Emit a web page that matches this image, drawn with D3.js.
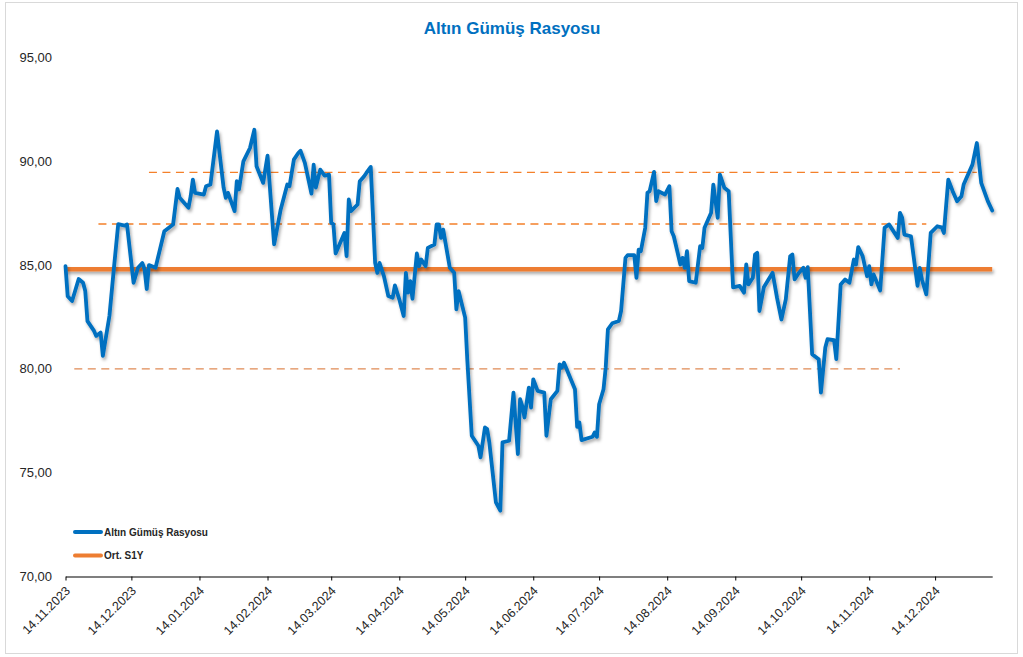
<!DOCTYPE html>
<html>
<head>
<meta charset="utf-8">
<script src="https://cdn.jsdelivr.net/npm/d3@7/dist/d3.min.js"></script>
<style>
  html, body { margin: 0; padding: 0; background: #fff; }
  svg { display: block; font-family: "Liberation Sans", Arial, sans-serif; }
</style>
</head>
<body>
<svg id="chart" width="1023" height="657"></svg>
<script>
// ---- data ----
const dates = [
  "2023-11-14","2023-11-15","2023-11-17","2023-11-20","2023-11-22","2023-11-23","2023-11-24","2023-11-27","2023-11-28","2023-11-30",
  "2023-12-01","2023-12-04","2023-12-06","2023-12-08","2023-12-11","2023-12-12","2023-12-15","2023-12-17","2023-12-19","2023-12-20",
  "2023-12-21","2023-12-22","2023-12-25","2023-12-29","2024-01-02","2024-01-04","2024-01-05","2024-01-09","2024-01-10","2024-01-11",
  "2024-01-12","2024-01-16","2024-01-17","2024-01-19","2024-01-22","2024-01-25","2024-01-26","2024-01-27","2024-01-30","2024-01-31",
  "2024-02-01","2024-02-03","2024-02-06","2024-02-08","2024-02-09","2024-02-12","2024-02-14","2024-02-17","2024-02-20","2024-02-23",
  "2024-02-24","2024-02-26","2024-02-28","2024-02-29","2024-03-02","2024-03-05","2024-03-06","2024-03-07","2024-03-09","2024-03-11",
  "2024-03-13","2024-03-14","2024-03-15","2024-03-16","2024-03-20","2024-03-21","2024-03-22","2024-03-23","2024-03-26","2024-03-27",
  "2024-03-29","2024-03-30","2024-04-01","2024-04-03","2024-04-04","2024-04-05","2024-04-07","2024-04-09","2024-04-11","2024-04-12",
  "2024-04-14","2024-04-16","2024-04-17","2024-04-18","2024-04-19","2024-04-20","2024-04-22","2024-04-23","2024-04-24","2024-04-26",
  "2024-04-27","2024-04-30","2024-05-01","2024-05-02","2024-05-03","2024-05-04","2024-05-07","2024-05-09","2024-05-10","2024-05-11",
  "2024-05-14","2024-05-15","2024-05-17","2024-05-20","2024-05-21","2024-05-23","2024-05-24","2024-05-25","2024-05-28","2024-05-30",
  "2024-05-31","2024-06-03","2024-06-05","2024-06-07","2024-06-08","2024-06-09","2024-06-10","2024-06-12","2024-06-13","2024-06-14",
  "2024-06-16","2024-06-19","2024-06-20","2024-06-22","2024-06-25","2024-06-26","2024-06-27","2024-06-28","2024-07-03","2024-07-04",
  "2024-07-05","2024-07-06","2024-07-11","2024-07-12","2024-07-13","2024-07-14","2024-07-16","2024-07-17","2024-07-18","2024-07-20",
  "2024-07-23","2024-07-24","2024-07-26","2024-07-27","2024-07-30","2024-07-31","2024-08-01","2024-08-02","2024-08-04","2024-08-05",
  "2024-08-06","2024-08-08","2024-08-09","2024-08-10","2024-08-13","2024-08-15","2024-08-16","2024-08-17","2024-08-20","2024-08-21",
  "2024-08-22","2024-08-23","2024-08-24","2024-08-27","2024-08-28","2024-08-29","2024-08-30","2024-08-31","2024-09-03","2024-09-04",
  "2024-09-06","2024-09-07","2024-09-09","2024-09-11","2024-09-13","2024-09-16","2024-09-18","2024-09-19","2024-09-20","2024-09-22",
  "2024-09-23","2024-09-24","2024-09-25","2024-09-27","2024-10-01","2024-10-03","2024-10-05","2024-10-07","2024-10-09","2024-10-10",
  "2024-10-11","2024-10-13","2024-10-15","2024-10-16","2024-10-17","2024-10-19","2024-10-22","2024-10-23","2024-10-25","2024-10-26",
  "2024-10-29","2024-10-30","2024-11-01","2024-11-03","2024-11-05","2024-11-07","2024-11-08","2024-11-09","2024-11-11","2024-11-13",
  "2024-11-14","2024-11-15","2024-11-16","2024-11-19","2024-11-21","2024-11-23","2024-11-27","2024-11-28","2024-11-29","2024-11-30",
  "2024-12-03","2024-12-06","2024-12-07","2024-12-08","2024-12-10","2024-12-12","2024-12-15","2024-12-17","2024-12-18","2024-12-20",
  "2024-12-22","2024-12-24","2024-12-26","2024-12-27","2024-12-31","2025-01-02","2025-01-04","2025-01-07","2025-01-09"
];
const ratio = [
  84.95,83.5,83.27,84.33,84.15,83.75,82.3,81.83,81.59,81.75,
  80.63,82.55,84.8,86.97,86.9,86.96,84.15,84.87,85.1,84.8,
  83.85,85.0,84.87,86.63,86.96,88.67,88.24,87.76,88.32,89.12,
  88.48,88.4,88.8,88.88,91.44,88.73,88.24,88.48,87.6,89.04,
  88.64,90.0,90.64,91.52,89.76,88.96,90.27,86.0,87.68,88.88,
  88.8,90.08,90.4,90.51,89.92,88.44,89.84,88.73,89.6,89.31,
  89.36,87.03,86.96,85.56,86.55,85.43,88.16,87.6,87.92,89.04,
  89.28,89.44,89.73,85.11,84.63,85.11,84.47,83.51,83.43,84.02,
  83.35,82.55,84.63,83.67,84.23,83.38,85.56,84.95,85.27,84.95,
  85.83,85.99,86.96,86.96,86.31,86.71,84.87,84.63,82.87,83.75,
  82.47,80.38,76.78,76.3,75.74,77.18,77.1,76.46,73.57,73.17,
  76.46,76.54,78.86,75.9,78.54,78.22,77.66,79.1,78.14,79.5,
  78.94,78.86,76.78,78.54,78.94,80.22,80.06,80.3,79.02,77.21,
  77.42,76.57,76.73,76.94,76.73,78.3,79.02,80.06,81.9,82.2,
  82.31,82.79,85.35,85.48,85.48,84.39,85.75,85.67,86.8,88.48,
  88.56,89.49,88.08,88.56,88.4,88.8,86.63,86.39,85.03,85.35,
  84.87,85.67,84.23,84.15,85.03,85.91,85.83,86.8,87.52,88.88,
  87.28,89.36,88.73,88.56,83.93,84.0,83.67,85.03,84.07,84.39,
  85.51,85.59,82.79,83.93,84.63,83.43,82.38,83.35,85.43,85.51,
  84.31,84.63,84.87,84.39,84.9,80.71,80.47,78.86,81.03,81.43,
  81.38,80.47,84.07,84.31,84.15,85.27,85.03,85.87,85.43,84.47,
  84.95,84.07,84.55,83.78,86.8,86.96,86.31,87.52,87.28,86.47,
  86.39,84.0,84.87,84.31,83.59,86.55,86.87,86.82,86.55,89.12,
  88.56,88.08,88.32,88.88,89.84,90.88,88.96,88.08,87.63
];

// Ort. S1Y (average) line
const avgValue = 84.8;
const avgRange = ["2023-11-14", "2025-01-09"];

// unlabelled dashed levels
const levelValues = [89.47, 86.98, 80.0];
const levelStart  = ["2023-12-22", "2023-11-29", "2023-11-18"];
const levelEnd    = ["2025-01-02", "2024-12-10", "2024-11-28"];

const yTicks = [70, 75, 80, 85, 90, 95];
const xTickDates = [
  "2023-11-14","2023-12-14","2024-01-14","2024-02-14","2024-03-14","2024-04-14","2024-05-14",
  "2024-06-14","2024-07-14","2024-08-14","2024-09-14","2024-10-14","2024-11-14","2024-12-14"
];

const title = "Altın Gümüş Rasyosu";
const seriesNames = ["Altın Gümüş Rasyosu", "Ort. S1Y"];

// ---- drawing ----
const parse = d3.utcParse("%Y-%m-%d");
const fmtDate = d3.utcFormat("%d.%m.%Y");
const fmtNum = (v) => d3.format(".2f")(v).replace(".", ",");

const blue = "#0070C0";
const orange = "#ED7D31";

const svg = d3.select("#chart");

// Drop shadow like Excel's. userSpaceOnUse so a flat horizontal line
// (zero-height bbox) still gets a filter region.
const defs = svg.append("defs");
const sh = defs.append("filter").attr("id", "shadow")
  .attr("filterUnits", "userSpaceOnUse")
  .attr("x", 0).attr("y", 0).attr("width", 1023).attr("height", 657);
sh.append("feDropShadow")
  .attr("dx", 1.5).attr("dy", 2.5).attr("stdDeviation", 1.4)
  .attr("flood-color", "#000").attr("flood-opacity", 0.33);

// chart border
svg.append("rect")
  .attr("x", 5.5).attr("y", 2.5).attr("width", 1012).attr("height", 651)
  .attr("fill", "#fff").attr("stroke", "#D9D9D9").attr("stroke-width", 1);

const x = d3.scaleUtc()
  .domain([parse("2023-11-14"), parse("2025-01-09")])
  .range([65.5, 992.2]);
const y = d3.scaleLinear().domain([70, 95]).range([576.5, 57.5]);

// title
svg.append("text")
  .attr("x", 512).attr("y", 34)
  .attr("text-anchor", "middle")
  .attr("font-size", 17).attr("font-weight", "bold")
  .attr("fill", blue)
  .text(title);

// y labels
svg.append("g").selectAll("text")
  .data(yTicks)
  .join("text")
  .attr("x", 52).attr("y", (d) => y(d))
  .attr("dy", "0.35em")
  .attr("text-anchor", "end")
  .attr("font-size", 13).attr("fill", "#262626")
  .text(fmtNum);

// x axis
const xAxis = d3.axisBottom(x)
  .tickValues(xTickDates.map(parse))
  .tickSize(4)
  .tickSizeOuter(0)
  .tickFormat(fmtDate);
const gx = svg.append("g")
  .attr("transform", `translate(0,${y(70)})`)
  .call(xAxis);
gx.select(".domain").attr("stroke", "#000").attr("stroke-width", 1.2);
gx.selectAll(".tick line").attr("stroke", "#000");
gx.selectAll(".tick text")
  .attr("font-size", 12.5)
  .attr("font-family", "Liberation Sans, Arial, sans-serif")
  .attr("fill", "#262626")
  .attr("text-anchor", "end")
  .attr("dy", null).attr("y", 0).attr("x", 0)
  .attr("transform", "translate(5,15) rotate(-45)");

// dashed levels
svg.append("g").selectAll("line")
  .data(levelValues)
  .join("line")
  .attr("x1", (d, i) => x(parse(levelStart[i])))
  .attr("x2", (d, i) => x(parse(levelEnd[i])))
  .attr("y1", (d) => y(d)).attr("y2", (d) => y(d))
  .attr("stroke", (d, i) => i === 2 ? "#DF8A55" : "#F4802A")
  .attr("stroke-width", 1.3)
  .attr("stroke-dasharray", "8,5.5");

// average line
svg.append("line")
  .attr("x1", x(parse(avgRange[0]))).attr("x2", x(parse(avgRange[1])))
  .attr("y1", y(avgValue)).attr("y2", y(avgValue))
  .attr("stroke", orange).attr("stroke-width", 4.5)
  .attr("filter", "url(#shadow)");

// ratio line
const series = dates.map((d, i) => ({ date: parse(d), value: ratio[i] }));
const line = d3.line().x((d) => x(d.date)).y((d) => y(d.value));
svg.append("path")
  .datum(series)
  .attr("d", line)
  .attr("fill", "none")
  .attr("stroke", blue)
  .attr("stroke-width", 3.8)
  .attr("stroke-linejoin", "round")
  .attr("stroke-linecap", "round")
  .attr("filter", "url(#shadow)");

// legend
const legend = svg.append("g");
const legendColors = [blue, orange];
const legendY = [532, 555.5];
seriesNames.forEach((name, i) => {
  legend.append("line")
    .attr("x1", 75).attr("x2", 101)
    .attr("y1", legendY[i]).attr("y2", legendY[i])
    .attr("stroke", legendColors[i]).attr("stroke-width", 4)
    .attr("stroke-linecap", "round");
  legend.append("text")
    .attr("x", 104).attr("y", legendY[i])
    .attr("dy", "0.36em")
    .attr("font-size", 10).attr("font-weight", "bold")
    .attr("fill", "#262626")
    .text(name);
});
</script>
</body>
</html>
